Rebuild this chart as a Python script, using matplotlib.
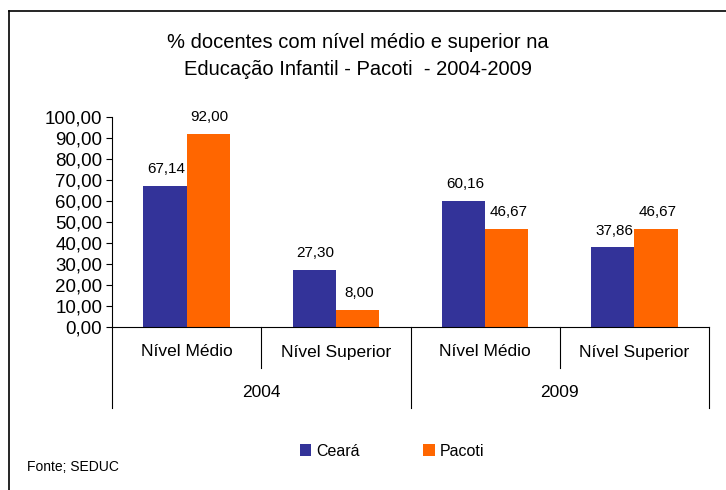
import matplotlib.pyplot as plt
import numpy as np

plt.rcParams['font.family'] = ['Liberation Sans', 'DejaVu Sans']

# data
niveis = ['Nível Médio', 'Nível Superior', 'Nível Médio', 'Nível Superior']
anos = ['2004', '2009']
ceara = [67.14, 27.30, 60.16, 37.86]
pacoti = [92.00, 8.00, 46.67, 46.67]
yticks = np.arange(0, 101, 10)

W, H = 726, 490
fig = plt.figure(figsize=(W / 100, H / 100), dpi=100)

# frame around the chart (only left and top visible)
fig.add_artist(plt.Line2D([9 / W, 9 / W], [0, 1 - 11 / H], color='black', lw=1.2))
fig.add_artist(plt.Line2D([9 / W, 1], [1 - 11 / H, 1 - 11 / H], color='black', lw=1.2))

x0, x1, y0, y1 = 112, 709, 327, 117
ax = fig.add_axes([x0 / W, 1 - y0 / H, (x1 - x0) / W, (y0 - y1) / H])

x = np.arange(len(niveis))
bw = 0.29
b1 = ax.bar(x - bw / 2, ceara, bw, color='#333399', label='Ceará')
b2 = ax.bar(x + bw / 2, pacoti, bw, color='#FF6600', label='Pacoti')

def fmt(v):
    return f'{v:.2f}'.replace('.', ',')

for bars, vals in ((b1, ceara), (b2, pacoti)):
    for b, v in zip(bars, vals):
        ax.annotate(fmt(v), (b.get_x() + b.get_width() / 2, v), xytext=(1, 7),
                    textcoords='offset points', ha='center', va='bottom', fontsize=11)

ax.set_xlim(-0.5, 3.5)
ax.set_ylim(0, 100)
ax.set_yticks(yticks)
ax.set_yticklabels([fmt(v) for v in yticks], fontsize=13.5)
ax.tick_params(axis='y', length=4, width=0.8, pad=3, direction='out')
ax.set_xticks([])
for s in ['top', 'right', 'left']:
    ax.spines[s].set_visible(False)
ax.spines['bottom'].set_linewidth(0.8)

h_px = y0 - y1
trans = ax.get_xaxis_transform()
# left axis line running down through the category labels
ax.plot([-0.5, -0.5], [1, -(408 - y0) / h_px], color='black', lw=0.8,
        transform=trans, clip_on=False)
for xs in [1.5, 3.5]:
    ax.plot([xs, xs], [0, -(408 - y0) / h_px], color='black', lw=0.8,
            transform=trans, clip_on=False)
for xs in [0.5, 2.5]:
    ax.plot([xs, xs], [0, -(368 - y0) / h_px], color='black', lw=0.8,
            transform=trans, clip_on=False)

for i, n in enumerate(niveis):
    ax.text(i, -(352 - y0) / h_px, n, transform=trans, ha='center', va='center',
            fontsize=12.5)
for i, a in enumerate(anos):
    ax.text(0.5 + 2 * i, -(392 - y0) / h_px, a, transform=trans, ha='center',
            va='center', fontsize=12.5)

fig.text(358 / W, 1 - 56 / H,
         '% docentes com nível médio e superior na\nEducação Infantil - Pacoti  - 2004-2009',
         ha='center', va='center', fontsize=14.5, linespacing=1.5)

fig.legend(handles=[b1, b2], labels=['Ceará', 'Pacoti'], loc='center',
           bbox_to_anchor=(392 / W, 1 - 451 / H), ncol=2, frameon=False,
           fontsize=11.5, handlelength=0.7, handleheight=0.7, handletextpad=0.3,
           columnspacing=4.0)

fig.text(27 / W, 1 - 467 / H, 'Fonte; SEDUC', ha='left', va='center', fontsize=10)

fig.savefig('out.png', dpi=100)
